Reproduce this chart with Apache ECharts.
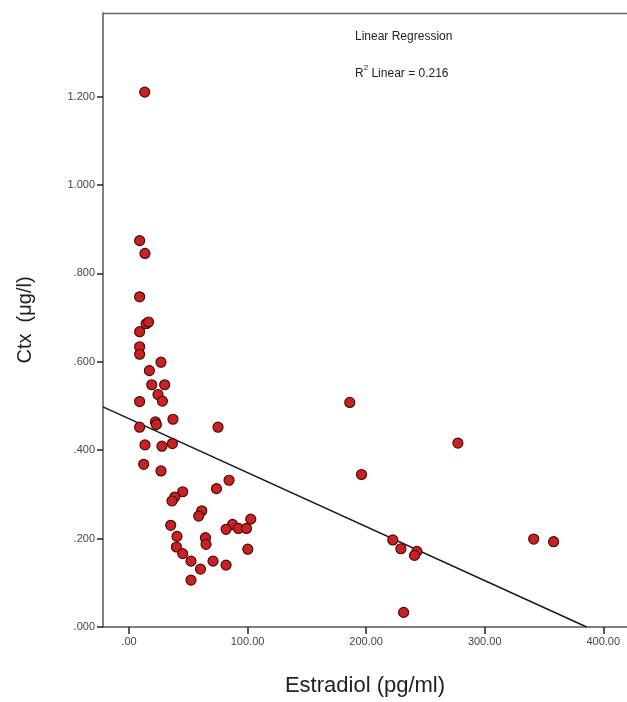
<!DOCTYPE html>
<html>
<head>
<meta charset="utf-8">
<script src="https://cdn.jsdelivr.net/npm/echarts@6/dist/echarts.min.js"></script>
<style>
  html, body { margin: 0; padding: 0; background: #fff; }
  #chart { width: 627px; height: 702px; }
</style>
</head>
<body>
<div id="chart"></div>
<script>
// estradiol (pg/ml) vs ctx (ug/l)
var estradiol = [13.3, 9.0, 13.5, 9.0, 14.5, 16.5, 9.0, 9.0, 9.0, 27.0, 17.2, 19.2, 30.1, 24.5, 28.2, 9.0,
  37.1, 22.3, 23.1, 9.0, 75.1, 13.5, 27.8, 36.6, 12.4, 27.0, 84.4, 73.8, 45.3, 38.6, 36.3, 61.4, 58.8,
  102.7, 87.3, 81.9, 92.3, 99.1, 35.2, 40.5, 64.5, 65.0, 40.0, 100.2, 45.3, 52.3, 70.9, 60.3, 81.9, 52.3,
  186.2, 277.4, 196.1, 222.5, 229.3, 242.8, 240.8, 341.3, 358.1, 231.6];
var ctx = [1.210, 0.874, 0.845, 0.747, 0.686, 0.690, 0.668, 0.634, 0.617, 0.599, 0.580, 0.548, 0.548, 0.526, 0.511, 0.510,
  0.470, 0.464, 0.458, 0.452, 0.452, 0.412, 0.409, 0.415, 0.368, 0.353, 0.332, 0.313, 0.306, 0.294, 0.285, 0.263, 0.251,
  0.244, 0.232, 0.221, 0.223, 0.223, 0.230, 0.205, 0.202, 0.187, 0.181, 0.176, 0.166, 0.149, 0.149, 0.131, 0.140, 0.106,
  0.508, 0.416, 0.345, 0.197, 0.177, 0.171, 0.162, 0.199, 0.193, 0.033];

// fit line ends (as drawn in the picture)
var fitX = [-21.9, 386];
var fitY = [0.498, 0];

var xTicks = [0, 100, 200, 300, 400];
var yTicks = [0, 0.2, 0.4, 0.6, 0.8, 1.0, 1.2];

var points = estradiol.map(function (x, i) { return [x, ctx[i]]; });
var fitLine = fitX.map(function (x, i) { return [x, fitY[i]]; });

var chart = echarts.init(document.getElementById('chart'));

var option = {
  backgroundColor: '#ffffff',
  animation: false,
  grid: { left: 103, right: 0, top: 13, bottom: 75, show: false },
  xAxis: {
    type: 'value',
    min: -21.9,
    max: 420,
    name: 'Estradiol (pg/ml)',
    nameLocation: 'middle',
    nameGap: 48,
    nameTextStyle: { fontSize: 22, color: '#222', fontFamily: 'Liberation Sans, Arial, sans-serif' },
    axisLine: { onZero: false, lineStyle: { color: '#555', width: 1.5 } },
    axisTick: { show: true, length: 7, lineStyle: { color: '#222', width: 1.5 }, customValues: xTicks },
    axisLabel: {
      customValues: xTicks,
      fontSize: 11, color: '#444', margin: 9,
      fontFamily: 'Liberation Sans Narrow, Arial Narrow, sans-serif',
      formatter: function (v) { return v === 0 ? '.00' : v.toFixed(2); }
    },
    splitLine: { show: false }
  },
  yAxis: {
    type: 'value',
    min: 0,
    max: 1.389,
    name: 'Ctx  (\u03bcg/l)',
    nameLocation: 'middle',
    nameGap: 68,
    nameTextStyle: { fontSize: 20, color: '#222', fontFamily: 'Liberation Sans, Arial, sans-serif' },
    axisLine: { show: true, onZero: false, lineStyle: { color: '#555', width: 1.5 } },
    axisTick: { show: true, length: 6, lineStyle: { color: '#222', width: 1.5 }, customValues: yTicks },
    axisLabel: {
      customValues: yTicks,
      fontSize: 11, color: '#444', margin: 8,
      fontFamily: 'Liberation Sans Narrow, Arial Narrow, sans-serif',
      formatter: function (v) { var s = v.toFixed(3); return s.charAt(0) === '0' ? s.slice(1) : s; }
    },
    splitLine: { show: false }
  },
  graphic: [
    { type: 'line', shape: { x1: 103, y1: 13.5, x2: 627, y2: 13.5 }, style: { stroke: '#666', lineWidth: 1.5 } },
    {
      type: 'text', left: 355, top: 31,
      style: { text: 'Linear Regression', fontSize: 12, fill: '#222', fontFamily: 'Liberation Sans, Arial, sans-serif' }
    },
    {
      type: 'text', left: 355, top: 64,
      style: {
        text: '{a|R}{s|2}{a| Linear = 0.216}',
        rich: {
          a: { fontSize: 12, fill: '#222', fontFamily: 'Liberation Sans, Arial, sans-serif', verticalAlign: 'bottom', lineHeight: 16 },
          s: { fontSize: 8, fill: '#222', fontFamily: 'Liberation Sans, Arial, sans-serif', verticalAlign: 'top', lineHeight: 16, padding: [0, 0, 6, 0] }
        }
      }
    }
  ],
  series: [
    {
      type: 'line',
      data: fitLine,
      showSymbol: false,
      lineStyle: { color: '#1a1a1a', width: 1.6 },
      z: 1
    },
    {
      type: 'scatter',
      data: points,
      symbolSize: 10,
      itemStyle: { color: '#d41e1e', borderColor: '#3a1212', borderWidth: 1.2, opacity: 1 },
      z: 2
    }
  ]
};

chart.setOption(option);
</script>
</body>
</html>
